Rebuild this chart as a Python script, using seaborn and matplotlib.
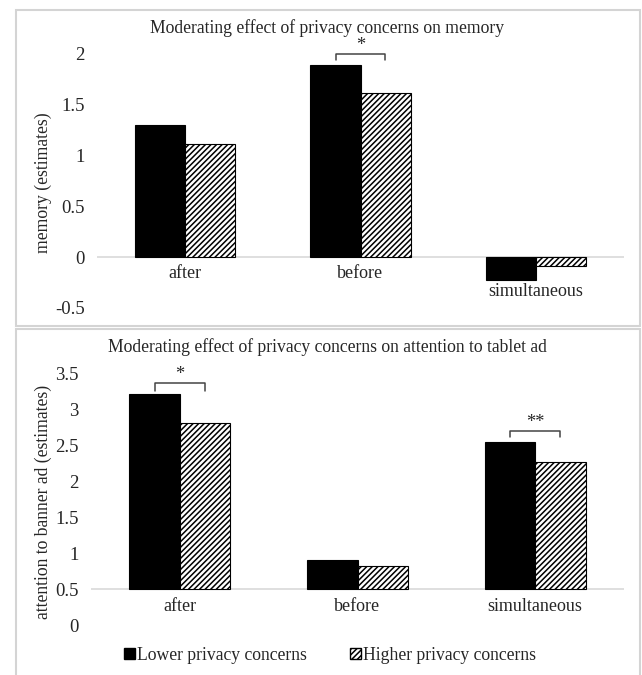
import matplotlib
matplotlib.use("Agg")
import matplotlib.pyplot as plt
from matplotlib.patches import Rectangle, Patch
import pandas as pd
import seaborn as sns

### DATA
conditions = ["after", "before", "simultaneous"]
groups = ["Lower privacy concerns", "Higher privacy concerns"]
memory_lower = [1.30, 1.89, -0.22]
memory_higher = [1.11, 1.62, -0.09]
attention_lower = [3.21, 0.90, 2.54]
attention_higher = [2.81, 0.82, 2.27]

top_title = "Moderating effect of privacy concerns on memory"
bottom_title = "Moderating effect of privacy concerns on attention to tablet ad"
top_ylabel = "memory (estimates)"
bottom_ylabel = "attention to banner ad (estimates)"

# significance marks: (condition index, label)
memory_sig = [(1, "*")]
attention_sig = [(0, "*"), (2, "**")]

### STYLE
sns.set_theme(style="white")
plt.rcParams["font.family"] = ["Liberation Serif", "DejaVu Serif"]
plt.rcParams["hatch.linewidth"] = 1.1
FS = 12.7
TICK_FS = 13.5
GRID = "#d9d9d9"


def make_df(lower, higher):
    return pd.DataFrame({
        "condition": conditions * 2,
        "group": [groups[0]] * 3 + [groups[1]] * 3,
        "value": lower + higher,
    })


def draw_bars(ax, df, base):
    sns.barplot(data=df, x="condition", y="value", hue="group",
                palette=["black", "white"], edgecolor="black", linewidth=0.8,
                width=0.57, gap=0, legend=False, ax=ax)
    # hatch the second series
    for p in ax.containers[1]:
        p.set_hatch("//////")
    # bars start from the axis crossing value
    if base != 0:
        for cont in ax.containers:
            for p in cont:
                top = p.get_y() + p.get_height()
                p.set_y(base)
                p.set_height(top - base)
    ax.axhline(base, color=GRID, lw=1.2, zorder=0)
    for s in ax.spines.values():
        s.set_visible(False)
    ax.set_xlim(-0.5, 2.5)
    ax.set_xticks([])
    ax.set_xlabel("")
    ax.set_ylabel("")
    ax.tick_params(axis="y", length=0, pad=9, labelsize=TICK_FS)


def bracket(ax, i, y_line, y_low, label):
    off = 0.14
    ax.plot([i - off, i - off, i + off, i + off], [y_low, y_line, y_line, y_low],
            color="#444444", lw=1.1, clip_on=False)
    ax.text(i, y_line, label, ha="center", va="bottom", fontsize=FS + 0.5)


fig = plt.figure(figsize=(6.42, 6.75), dpi=100)

# panel frames
fig.patches.append(Rectangle((16 / 642, 1 - 326 / 675), 624 / 642, 316 / 675,
                             transform=fig.transFigure, fill=False,
                             edgecolor="#d4d4d4", lw=1.5))
fig.patches.append(Rectangle((16 / 642, -0.01), 624 / 642, 1 - 329 / 675 + 0.01,
                             transform=fig.transFigure, fill=False,
                             edgecolor="#d4d4d4", lw=1.5))

### TOP PANEL
ax1 = fig.add_axes([97 / 642, 1 - 308 / 675, 527 / 642, 254 / 675])
draw_bars(ax1, make_df(memory_lower, memory_higher), 0)
ax1.set_ylim(-0.5, 2.0)
ax1.set_yticks([-0.5, 0, 0.5, 1, 1.5, 2])
ax1.set_yticklabels(["-0.5", "0", "0.5", "1", "1.5", "2"])
for i, c in enumerate(conditions):
    y = -0.34 if i == 2 else -0.165
    ax1.text(i, y, c, ha="center", va="center", fontsize=13)
for i, lab in memory_sig:
    bracket(ax1, i, 2.0, 1.94, lab)
fig.text(327 / 642, 1 - 28 / 675, top_title, ha="center", va="center", fontsize=FS)
fig.text(43 / 642, 1 - 183 / 675, top_ylabel, ha="center", va="center",
         rotation=90, fontsize=FS)

### BOTTOM PANEL
ax2 = fig.add_axes([91 / 642, 1 - 625 / 675, 533 / 642, 252 / 675])
draw_bars(ax2, make_df(attention_lower, attention_higher), 0.5)
ax2.set_ylim(0, 3.5)
ax2.set_yticks([0, 0.5, 1, 1.5, 2, 2.5, 3, 3.5])
ax2.set_yticklabels(["0", "0.5", "1", "1.5", "2", "2.5", "3", "3.5"])
for i, c in enumerate(conditions):
    ax2.text(i, 0.26, c, ha="center", va="center", fontsize=13)
bracket(ax2, attention_sig[0][0], 3.36, 3.25, attention_sig[0][1])
bracket(ax2, attention_sig[1][0], 2.69, 2.61, attention_sig[1][1])
fig.text(327 / 642, 1 - 347 / 675, bottom_title, ha="center", va="center", fontsize=FS)
fig.text(43 / 642, 1 - 502 / 675, bottom_ylabel, ha="center", va="center",
         rotation=90, fontsize=FS)

handles = [Patch(facecolor="black", edgecolor="black"),
           Patch(facecolor="white", edgecolor="black", hatch="//////")]
fig.legend(handles, groups, loc="center", bbox_to_anchor=(330 / 642, 1 - 655 / 675),
           ncol=2, frameon=False, fontsize=FS, handlelength=0.6, handleheight=0.6,
           handletextpad=0.1, columnspacing=2.5)

fig.savefig("out.png", dpi=100)
